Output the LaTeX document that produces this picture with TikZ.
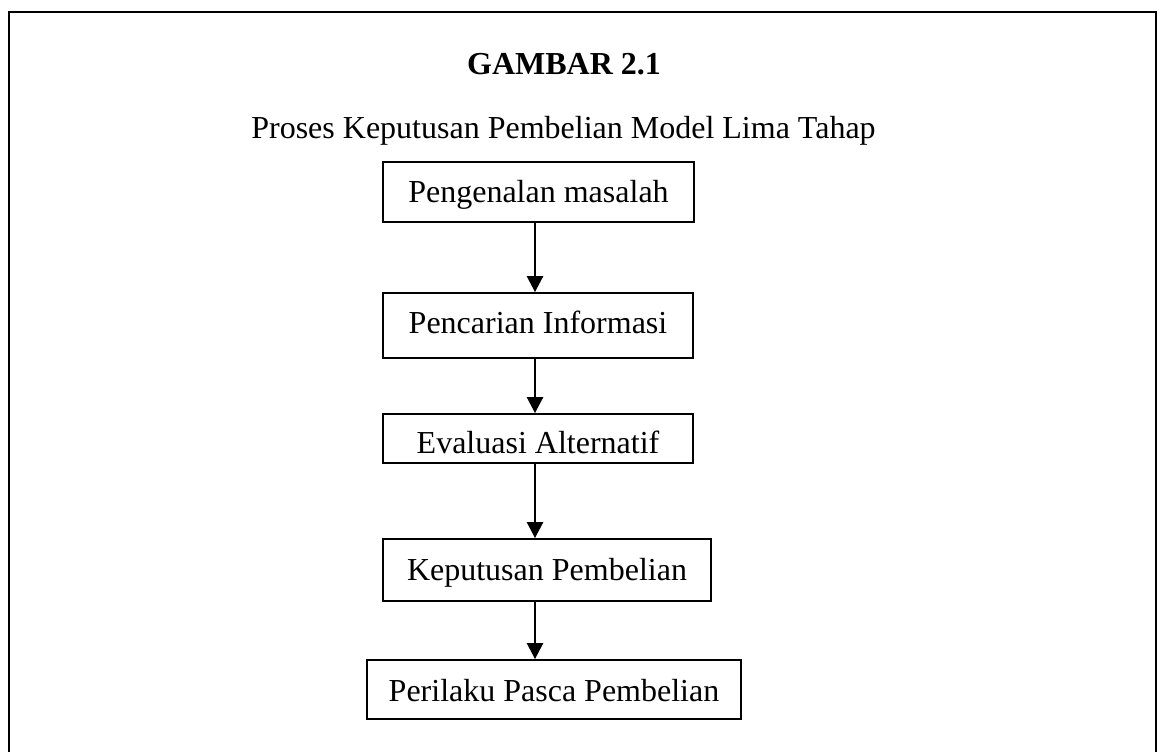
\documentclass[tikz,border=0pt]{standalone}
\usepackage{fontspec}
\setmainfont{Liberation Serif}
\usetikzlibrary{arrows.meta}
\tikzset{
  stepbox/.style={draw, line width=1.8pt, inner sep=0pt, font=\fontsize{32}{38}\selectfont, text depth=0pt},
  flow/.style={line width=2.6pt, -{Triangle[width=16pt,length=16pt]}},
  heading/.style={inner sep=0pt, anchor=base, font=\fontsize{32}{38}\selectfont}
}
\begin{document}
\begin{tikzpicture}[x=1pt,y=-1pt]
\useasboundingbox (0,0) rectangle (1160,752);
\draw[line width=2.5pt] (9,752) -- (9,12) -- (1156,12) -- (1156,752);
\node[heading, font=\fontsize{32}{38}\selectfont\bfseries] (title) at (564,75) {GAMBAR 2.1};
\node[heading] (sub) at (563.5,138.3) {Proses Keputusan Pembelian Model Lima Tahap};
\node[stepbox, minimum width=311pt, minimum height=60pt, text height=20pt] (b1) at (538.5,192) {Pengenalan masalah};
\node[stepbox, minimum width=310pt, minimum height=65pt, text height=16pt] (b2) at (538,325.5) {Pencarian Informasi};
\node[stepbox, minimum width=310pt, minimum height=49pt, text height=29pt] (b3) at (538,438.5) {Evaluasi Alternatif};
\node[stepbox, minimum width=328pt, minimum height=62pt, text height=20pt] (b4) at (547,570) {Keputusan Pembelian};
\node[stepbox, minimum width=374pt, minimum height=59pt, text height=23pt] (b5) at (554,689.5) {Perilaku Pasca Pembelian};
\coordinate (ax) at (535,0);
\draw[flow] (b1.south -| ax) -- (b2.north -| ax);
\draw[flow] (b2.south -| ax) -- (b3.north -| ax);
\draw[flow] (b3.south -| ax) -- (b4.north -| ax);
\draw[flow] (b4.south -| ax) -- (b5.north -| ax);
\end{tikzpicture}
\end{document}
